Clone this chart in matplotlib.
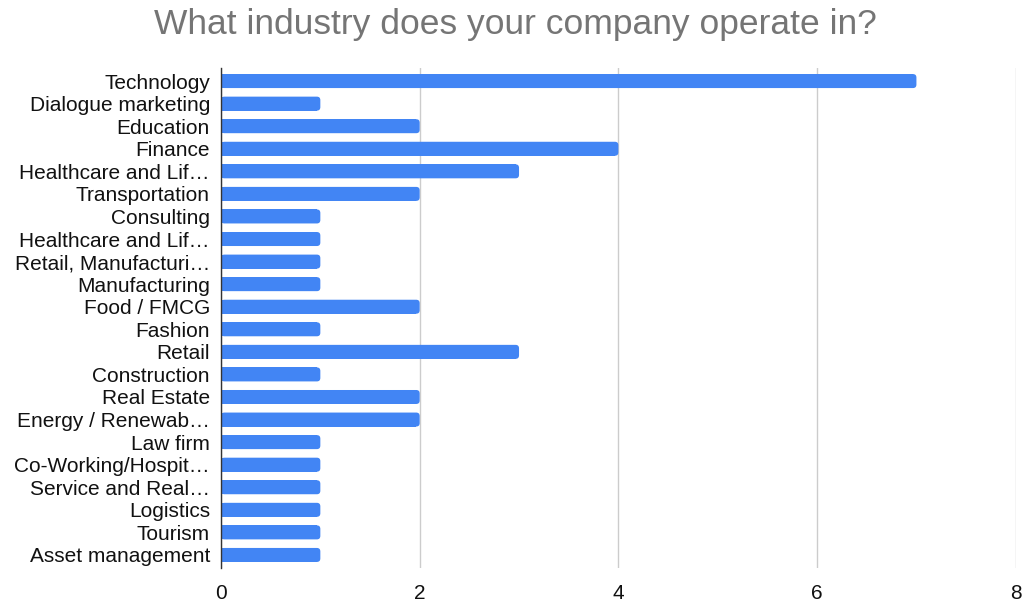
import matplotlib.pyplot as plt
from matplotlib.patches import FancyBboxPatch

plt.rcParams['font.family'] = ['Liberation Sans', 'DejaVu Sans']

# 数据
industries = ['Technology', 'Dialogue marketing', 'Education', 'Finance',
              'Healthcare and Lif…', 'Transportation', 'Consulting',
              'Healthcare and Lif…', 'Retail, Manufacturi…', 'Manufacturing',
              'Food / FMCG', 'Fashion', 'Retail', 'Construction', 'Real Estate',
              'Energy / Renewab…', 'Law firm', 'Co-Working/Hospit…',
              'Service and Real…', 'Logistics', 'Tourism', 'Asset management']
counts = [7, 1, 2, 4, 3, 2, 1, 1, 1, 1, 2, 1, 3, 1, 2, 2, 1, 1, 1, 1, 1, 1]
x_ticks = [0, 2, 4, 6, 8]

blue = '#4285F4'
bar_h = 0.62
r = 0.035  # 圆角半径（x 单位）

fig = plt.figure(figsize=(10.25, 6.04), dpi=100)
ax = fig.add_axes([0.2156, 0.0588, 0.7754, 0.8294])

pos = list(range(len(industries)))
# 左边方角部分
ax.barh(pos, [c - r for c in counts], height=bar_h, color=blue, zorder=3)
# 右边圆角部分
for y, c in zip(pos, counts):
    p = FancyBboxPatch((0, y - bar_h / 2), c, bar_h,
                       boxstyle=f'round,pad=0,rounding_size={r}',
                       mutation_aspect=4.4, facecolor=blue, edgecolor='none',
                       zorder=3)
    ax.add_patch(p)

ax.set_xlim(0, 8)
ax.set_ylim(len(industries) - 0.4, -0.6)
ax.set_xticks(x_ticks)
ax.set_yticks(pos)
ax.set_yticklabels(industries, fontsize=15, color='#111111')
ax.tick_params(axis='x', labelsize=15, colors='#111111', length=0, pad=11)
ax.tick_params(axis='y', length=0, pad=8)
ax.grid(axis='x', color='#cccccc', linewidth=1, zorder=0)

for s in ['top', 'right', 'bottom']:
    ax.spines[s].set_visible(False)
ax.spines['left'].set_color('#333333')
ax.spines['left'].set_linewidth(1)
ax.spines['left'].set_zorder(4)

fig.text(0.503, 0.96, 'What industry does your company operate in?',
         ha='center', va='center', fontsize=25.5, color='#757575')

fig.savefig('out.png', dpi=100)
